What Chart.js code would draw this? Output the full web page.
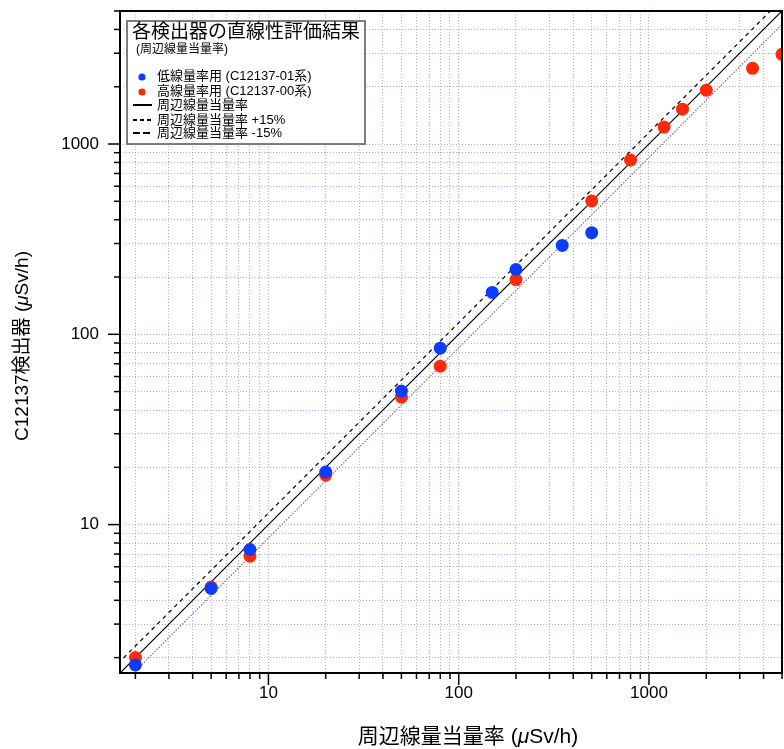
<!DOCTYPE html>
<html lang="ja">
<head>
<meta charset="UTF-8" />
<title>各検出器の直線性評価結果</title>
<script src="https://cdn.jsdelivr.net/npm/chart.js"></script>
<style>
  html, body { margin: 0; padding: 0; background: #fff; }
  canvas { display: block; }
</style>
</head>
<body>
<canvas id="linearityChart" width="784" height="749"></canvas>
<script>
  // axis range (both axes are log, same scale)
  const axisMin = 1.66;
  const axisMax = 5000;
  const labeledTicks = [10, 100, 1000];
  const tickMultipliers = [1, 2, 3, 4, 5, 6, 7, 8, 9];
  const decades = [1, 10, 100, 1000];

  // low dose-rate detector (C12137-01)
  const lowX = [2, 5, 8, 20, 50, 80, 150, 200, 350, 500];
  const lowY = [1.83, 4.62, 7.4, 18.9, 50.3, 84.5, 166, 219, 293, 342];

  // high dose-rate detector (C12137-00)
  const highX = [2, 5, 8, 20, 50, 80, 200, 500, 800, 1200, 1500, 2000, 3500, 5000];
  const highY = [2.0, 4.7, 6.82, 18.2, 46.8, 68, 194, 502, 824, 1228, 1525, 1918, 2500, 2960];

  // reference lines y = k * x
  const refX = [1, 10000];
  const refFactors = [1, 1.15, 0.85];

  const legendTitle = "各検出器の直線性評価結果";
  const legendSub = "(周辺線量当量率)";
  const legendLabels = [
    "低線量率用 (C12137-01系)",
    "高線量率用 (C12137-00系)",
    "周辺線量当量率",
    "周辺線量当量率 +15%",
    "周辺線量当量率 -15%"
  ];

  const FAMILY = '"Liberation Sans", "Noto Sans CJK JP", sans-serif';
  const BLUE = "#0a3dff";
  const RED = "#ff2a0a";
  const gridColor = "rgba(90, 90, 255, 0.5)";

  Chart.defaults.font.family = FAMILY;
  Chart.defaults.color = "#000";

  function buildTicks(scale) {
    const t = [];
    decades.forEach(d => {
      tickMultipliers.forEach(m => {
        const v = m * d;
        if (v >= axisMin && v <= axisMax) t.push({ value: v });
      });
    });
    scale.ticks = t;
  }

  function font(size, italic) {
    return (italic ? "italic " : "") + size + "px " + FAMILY;
  }

  // draws text pieces (some italic) centred on x,y
  function drawMixed(ctx, parts, x, y, size) {
    let total = 0;
    parts.forEach(p => { ctx.font = font(size, p[1]); total += ctx.measureText(p[0]).width; });
    let cx = x - total / 2;
    ctx.textAlign = "left";
    ctx.textBaseline = "middle";
    parts.forEach(p => {
      ctx.font = font(size, p[1]);
      ctx.fillText(p[0], cx, y);
      cx += ctx.measureText(p[0]).width;
    });
  }

  const decorPlugin = {
    id: "decor",
    afterDraw(chart) {
      const ctx = chart.ctx;
      const a = chart.chartArea;
      const xs = chart.scales.x, ys = chart.scales.y;
      ctx.save();

      // tick marks, outside left and bottom
      ctx.strokeStyle = "#000";
      ctx.lineWidth = 1.5;
      ctx.setLineDash([]);
      xs.ticks.forEach(t => {
        const px = xs.getPixelForValue(t.value);
        const len = labeledTicks.includes(t.value) ? 12 : 6;
        ctx.beginPath();
        ctx.moveTo(px, a.bottom);
        ctx.lineTo(px, a.bottom + len);
        ctx.stroke();
      });
      ys.ticks.forEach(t => {
        const py = ys.getPixelForValue(t.value);
        const len = labeledTicks.includes(t.value) ? 12 : 6;
        ctx.beginPath();
        ctx.moveTo(a.left, py);
        ctx.lineTo(a.left - len, py);
        ctx.stroke();
      });

      // frame
      ctx.lineWidth = 2;
      ctx.strokeRect(a.left, a.top, a.right - a.left, a.bottom - a.top);

      // axis titles
      ctx.fillStyle = "#000";
      drawMixed(ctx, [["周辺線量当量率 (", false], ["μ", true], ["Sv/h)", false]], 468, 737, 21);
      ctx.save();
      ctx.translate(23, 346);
      ctx.rotate(-Math.PI / 2);
      drawMixed(ctx, [["C12137検出器 (", false], ["μ", true], ["Sv/h)", false]], 0, 0, 19);
      ctx.restore();

      // legend box
      const bx = 127, by = 21, bw = 238, bh = 123;
      ctx.fillStyle = "#fff";
      ctx.fillRect(bx, by, bw, bh);
      ctx.strokeStyle = "#555";
      ctx.lineWidth = 1.5;
      ctx.strokeRect(bx, by, bw, bh);

      ctx.fillStyle = "#000";
      ctx.textAlign = "left";
      ctx.textBaseline = "middle";
      ctx.font = font(19, false);
      ctx.fillText(legendTitle, 132, 33);
      ctx.font = font(12, false);
      ctx.fillText(legendSub, 136, 50);

      const rowY = [76, 91, 105, 120, 133];
      ctx.font = font(13, false);
      legendLabels.forEach((lab, i) => ctx.fillText(lab, 157, rowY[i]));

      ctx.fillStyle = BLUE;
      ctx.beginPath(); ctx.arc(142, rowY[0] + 1, 3.6, 0, Math.PI * 2); ctx.fill();
      ctx.fillStyle = RED;
      ctx.beginPath(); ctx.arc(142, rowY[1] + 1, 3.6, 0, Math.PI * 2); ctx.fill();

      ctx.strokeStyle = "#000";
      ctx.lineWidth = 2;
      [[], [4, 3], [7, 3]].forEach((dash, k) => {
        ctx.setLineDash(dash);
        ctx.beginPath();
        ctx.moveTo(133, rowY[k + 2]);
        ctx.lineTo(152, rowY[k + 2]);
        ctx.stroke();
      });
      ctx.restore();
    }
  };

  const axisCommon = {
    type: "logarithmic",
    min: axisMin,
    max: axisMax,
    afterBuildTicks: buildTicks,
    grid: { color: gridColor, lineWidth: 1, drawTicks: false },
    border: { display: false, dash: [1, 2] }
  };

  new Chart(document.getElementById("linearityChart"), {
    type: "scatter",
    data: {
      datasets: [
        {
          label: legendLabels[0],
          data: lowX.map((x, i) => ({ x: x, y: lowY[i] })),
          backgroundColor: BLUE,
          borderColor: BLUE,
          pointRadius: 6.5,
          pointBorderWidth: 0
        },
        {
          label: legendLabels[1],
          data: highX.map((x, i) => ({ x: x, y: highY[i] })),
          backgroundColor: RED,
          borderColor: RED,
          pointRadius: 6.5,
          pointBorderWidth: 0
        },
        {
          label: legendLabels[2],
          data: refX.map(x => ({ x: x, y: x * refFactors[0] })),
          showLine: true,
          pointRadius: 0,
          borderColor: "#000",
          borderWidth: 1.2
        },
        {
          label: legendLabels[3],
          data: refX.map(x => ({ x: x, y: x * refFactors[1] })),
          showLine: true,
          pointRadius: 0,
          borderColor: "#000",
          borderWidth: 1.2,
          borderDash: [4, 4]
        },
        {
          label: legendLabels[4],
          data: refX.map(x => ({ x: x, y: x * refFactors[2] })),
          showLine: true,
          pointRadius: 0,
          borderColor: "#777",
          borderWidth: 1.2,
          borderDash: [1.5, 1.5]
        }
      ]
    },
    options: {
      responsive: false,
      animation: false,
      devicePixelRatio: 1,
      layout: { autoPadding: false, padding: { top: 11, right: 2, left: 0, bottom: 0 } },
      plugins: {
        legend: { display: false },
        tooltip: { enabled: false }
      },
      scales: {
        x: Object.assign({}, axisCommon, {
          afterFit: s => {
            s.height = 76;
            s.paddingLeft = 0; s.paddingRight = 0; s.paddingTop = 0; s.paddingBottom = 0;
          },
          ticks: {
            autoSkip: false,
            maxRotation: 0,
            padding: 10,
            font: { size: 17 },
            callback: v => labeledTicks.includes(v) ? String(v) : ""
          }
        }),
        y: Object.assign({}, axisCommon, {
          afterFit: s => {
            s.width = 120;
            s.paddingLeft = 0; s.paddingRight = 0; s.paddingTop = 0; s.paddingBottom = 0;
          },
          ticks: {
            autoSkip: false,
            padding: 21,
            font: { size: 17 },
            callback: v => labeledTicks.includes(v) ? String(v) : ""
          }
        })
      }
    },
    plugins: [decorPlugin]
  });
</script>
</body>
</html>
